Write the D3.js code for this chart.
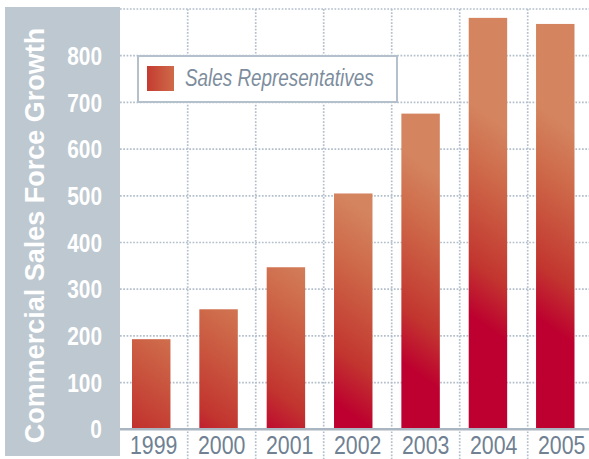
<!DOCTYPE html>
<html>
<head>
<meta charset="utf-8">
<script src="https://cdn.jsdelivr.net/npm/d3@7"></script>
<style>
body { margin: 0; background: #fff; }
svg { display: block; }
</style>
</head>
<body>
<div class="chart-wrapper"></div>
<script>
const years = ['1999', '2000', '2001', '2002', '2003', '2004', '2005']
const reps = [193, 257, 347, 505, 676, 881, 868]
const yTicks = [0, 100, 200, 300, 400, 500, 600, 700, 800]
const gridTicks = [100, 200, 300, 400, 500, 600, 700, 800, 900]
const seriesName = 'Sales Representatives'
const title = 'Commercial Sales Force Growth'

const width = 589
const height = 459
const font = '"Liberation Sans", Arial, Helvetica, sans-serif'
// no narrow face installed, so squeeze the regular one
const squeeze = 0.82

const svg = d3.select('.chart-wrapper')
.append('svg')
.attr('width', width)
.attr('height', height)

const y = d3.scaleLinear()
.domain([0, 900])
.range([429.3, 9])

// grid cells and bars sit on slightly different steps in the original
const xGrid = d3.scaleBand()
.domain(years)
.range([119.7, 595.7])

const xBar = d3.scaleBand()
.domain(years)
.range([132, 574.5])
.paddingInner(0.429)
.paddingOuter(0)

const defs = svg.append('defs')

const stops = [
    [0, '#bd002f'], [0.25, '#bd002f'], [0.38, '#c2352f'], [0.5, '#c8503c'],
    [0.62, '#ce6a4a'], [0.76, '#d4845f'], [1, '#d4845f']
]

const dir = [0.58, -0.815]
const half = 170

reps.map((v, i) => {
    const cx = xBar(years[i]) + xBar.bandwidth() / 2
    const cy = (y(v) + y(0)) / 2
    const g = defs.append('linearGradient')
    .attr('id', 'bar-grad-' + i)
    .attr('gradientUnits', 'userSpaceOnUse')
    .attr('x1', cx - half * dir[0])
    .attr('y1', cy - half * dir[1])
    .attr('x2', cx + half * dir[0])
    .attr('y2', cy + half * dir[1])
    g.selectAll('stop')
    .data(stops)
    .enter()
    .append('stop')
    .attr('offset', d => d[0])
    .attr('stop-color', d => d[1])
})

const legendGrad = defs.append('linearGradient')
.attr('id', 'legend-grad')
legendGrad.append('stop').attr('offset', 0).attr('stop-color', '#c43c30')
legendGrad.append('stop').attr('offset', 1).attr('stop-color', '#cf6a49')

// left band
svg.append('rect')
.attr('x', 5)
.attr('y', 7)
.attr('width', 115)
.attr('height', 449)
.attr('fill', '#bec8d0')

const grid = svg.append('g')
.attr('stroke', '#b3bfcb')
.attr('stroke-width', 1.7)
.attr('stroke-dasharray', '1.7,1.6')

grid.selectAll('.h')
.data(gridTicks)
.enter()
.append('line')
.attr('x1', 120)
.attr('x2', width)
.attr('y1', d => y(d))
.attr('y2', d => y(d))

grid.selectAll('.v')
.data(years.slice(1))
.enter()
.append('line')
.attr('x1', d => xGrid(d))
.attr('x2', d => xGrid(d))
.attr('y1', y(900))
.attr('y2', height)

svg.append('g')
.selectAll('rect')
.data(reps)
.enter()
.append('rect')
.attr('x', (d, i) => xBar(years[i]))
.attr('width', xBar.bandwidth())
.attr('y', d => y(d))
.attr('height', d => y(0) - y(d))
.attr('fill', (d, i) => `url(#bar-grad-${i})`)

svg.append('line')
.attr('x1', 120)
.attr('x2', width)
.attr('y1', y(0))
.attr('y2', y(0))
.attr('stroke', '#a9b5c0')
.attr('stroke-width', 2.5)

svg.append('g')
.selectAll('text')
.data(yTicks)
.enter()
.append('text')
.attr('transform', d => `translate(102,${y(d)}) scale(${squeeze},1)`)
.attr('dy', '0.36em')
.attr('text-anchor', 'end')
.attr('font-family', font)
.attr('font-weight', 'bold')
.attr('font-size', 25.5)
.attr('fill', '#fff')
.text(d => d)

svg.append('g')
.selectAll('text')
.data(years)
.enter()
.append('text')
.attr('transform', d => `translate(${xGrid(d) + xGrid.bandwidth() / 2},453.5) scale(${squeeze},1)`)
.attr('text-anchor', 'middle')
.attr('font-family', font)
.attr('font-size', 26)
.attr('fill', '#6f8193')
.text(d => d)

svg.append('text')
.attr('transform', 'translate(43.5,235.5) rotate(-90)')
.attr('text-anchor', 'middle')
.attr('font-family', font)
.attr('font-weight', 'bold')
.attr('font-size', 27)
.attr('fill', '#fff')
.text(title)

const legend = svg.append('g')

legend.append('rect')
.attr('x', 138)
.attr('y', 56)
.attr('width', 259)
.attr('height', 46)
.attr('fill', '#fff')
.attr('stroke', '#b4c0cb')
.attr('stroke-width', 2)

legend.append('rect')
.attr('x', 147)
.attr('y', 66)
.attr('width', 27)
.attr('height', 25)
.attr('fill', 'url(#legend-grad)')

legend.append('text')
.attr('transform', `translate(185,86) scale(${squeeze},1)`)
.attr('font-family', font)
.attr('font-style', 'italic')
.attr('font-size', 23)
.attr('fill', '#7d8d9d')
.text(seriesName)
</script>
</body>
</html>
